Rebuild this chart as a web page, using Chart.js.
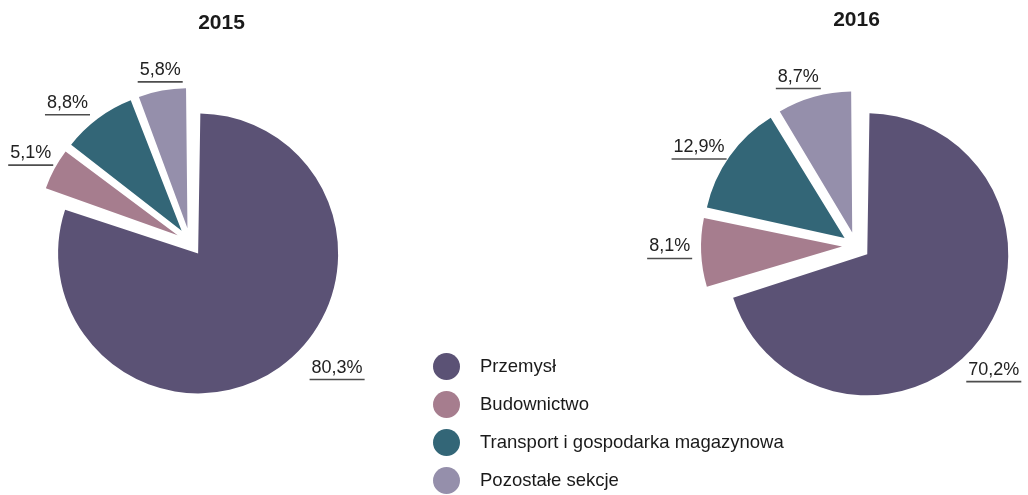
<!DOCTYPE html>
<html>
<head>
<meta charset="utf-8">
<script src="https://cdn.jsdelivr.net/npm/chart.js@4.4.1/dist/chart.umd.min.js"></script>
<style>
  html, body { margin: 0; padding: 0; background: #fff; }
  #wrap { position: relative; width: 1028px; height: 495px; overflow: hidden; font-family: "Liberation Sans", Arial, sans-serif; }
  #wrap canvas { position: absolute; left: 0; top: 0; }
  #legend { position: absolute; left: 433px; top: 347px; }
  .item { display: flex; align-items: center; height: 38px; font-size: 18.5px; color: #1a1a1a; }
  .dot { width: 27px; height: 27px; border-radius: 50%; margin-right: 20px; }
</style>
</head>
<body>
<div id="wrap">
  <canvas id="c2015" width="1028" height="495"></canvas>
  <canvas id="c2016" width="1028" height="495"></canvas>
  <div id="legend"></div>
</div>
<script>
const categories = ['Przemysł', 'Budownictwo', 'Transport i gospodarka magazynowa', 'Pozostałe sekcje'];
const years = ['2015', '2016'];
const values2015 = [80.3, 5.1, 8.8, 5.8];
const values2016 = [70.2, 8.1, 12.9, 8.7];
const colors = ['#5b5275', '#a67d8e', '#336677', '#958fab'];

const EXPLODE = 56; // chart.js moves a slice by offset/4

// labels with an underline, plus the year above each pie
const sliceLabels = {
  id: 'sliceLabels',
  afterDatasetsUpdate(chart) {
    // chart.js grows exploded slices, keep them at the plain radius
    const meta = chart.getDatasetMeta(0);
    const base = meta.controller.outerRadius;
    meta.data.forEach(arc => {
      const fix = 1 - Math.sin(Math.min(Math.PI, arc.circumference));
      arc.outerRadius = base - (EXPLODE / 4) * fix;
    });
  },
  afterDatasetsDraw(chart, args, opts) {
    const ctx = chart.ctx;
    const meta = chart.getDatasetMeta(0);
    const ds = chart.data.datasets[0];
    const R = meta.controller.outerRadius;
    const shift = EXPLODE / 4;
    const pad = 10;
    ctx.save();
    ctx.font = '18px "Liberation Sans", Arial, sans-serif';
    ctx.textAlign = 'center';
    ctx.textBaseline = 'alphabetic';
    meta.data.forEach((arc, i) => {
      const a = (arc.startAngle + arc.endAngle) / 2;
      const dx = Math.cos(a), dy = Math.sin(a);
      const txt = ds.data[i].toFixed(1).replace('.', ',') + '%';
      const w = ctx.measureText(txt).width + 4;
      const h = 22;
      const n = opts.nudge[i];
      const cx = arc.x + dx * (shift + R + pad) + dx * w / 2 + n[0];
      const cy = arc.y + dy * (shift + R + pad) + dy * h / 2 + n[1];
      ctx.fillStyle = '#222';
      ctx.fillText(txt, cx, cy + 3);
      ctx.strokeStyle = '#4d4d4d';
      ctx.lineWidth = 1.6;
      ctx.beginPath();
      ctx.moveTo(cx - w / 2, cy + 10);
      ctx.lineTo(cx + w / 2, cy + 10);
      ctx.stroke();
    });
    ctx.font = 'bold 21px "Liberation Sans", Arial, sans-serif';
    ctx.fillStyle = '#1a1a1a';
    ctx.fillText(opts.title.text, opts.title.x, opts.title.y);
    ctx.restore();
  }
};

function makePie(id, values, radius, padding, nudge, title) {
  return new Chart(document.getElementById(id), {
    type: 'pie',
    data: {
      labels: categories,
      datasets: [{
        data: values,
        backgroundColor: colors,
        borderWidth: 0,
        offset: EXPLODE,
        radius: radius
      }]
    },
    options: {
      responsive: false,
      animation: false,
      radius: radius,
      layout: { padding: padding },
      plugins: {
        legend: { display: false },
        tooltip: { enabled: false },
        sliceLabels: { nudge: nudge, title: title }
      }
    },
    plugins: [sliceLabels]
  });
}

makePie('c2015', values2015, 140, { left: 0, right: 648, top: 0, bottom: 11 },
  [[36, -15], [5, -4], [-11, 3], [4, 2]], { text: years[0], x: 221.5, y: 29 });
makePie('c2016', values2016, 141, { left: 684, right: 0, top: 0, bottom: 3 },
  [[-17, 21], [1, -5], [0, 5], [-7, 2]], { text: years[1], x: 856.5, y: 26 });

// legend
const legend = document.getElementById('legend');
categories.forEach((c, i) => {
  const item = document.createElement('div');
  item.className = 'item';
  item.innerHTML = '<span class="dot" style="background:' + colors[i] + '"></span><span>' + c + '</span>';
  legend.appendChild(item);
});
</script>
</body>
</html>
